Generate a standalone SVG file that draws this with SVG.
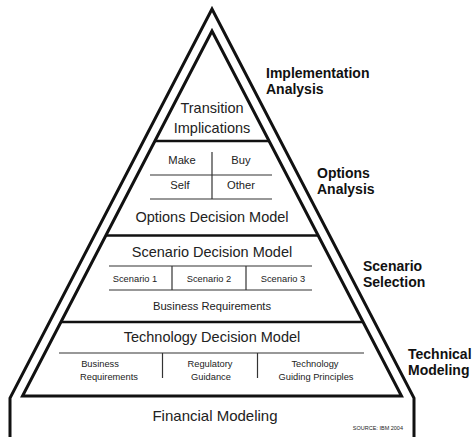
<svg xmlns="http://www.w3.org/2000/svg" width="475" height="437" viewBox="0 0 475 437">
<style>
  .bold { fill: none; stroke: #111; stroke-width: 3; stroke-linejoin: miter; }
  .div { stroke: #111; stroke-width: 2.6; }
  .thin { stroke: #333; stroke-width: 1.2; }
  text { font-family: "Liberation Sans", Arial, sans-serif; fill: #222; text-anchor: middle; }
  .big { font-size: 14.5px; }
  .mid { font-size: 11.2px; }
  .sm { font-size: 9.3px; }
  .side { font-size: 14px; font-weight: bold; fill: #111; text-anchor: start; }
</style>
<rect width="475" height="437" fill="#fff"/>
<g id="frame">
  <path class="bold" d="M10,440 L10,398 L212,9 L414,398 L414,440"/>
  <polygon class="bold" points="212,31 22.5,396 401.5,396"/>
</g>
<g id="connectors">
  <line class="div" x1="155" y1="141" x2="269" y2="141"/>
  <line class="div" x1="106" y1="235.5" x2="318" y2="235.5"/>
  <line class="div" x1="61" y1="322" x2="363" y2="322"/>
</g>
<g id="transition">
  <text class="big" x="212" y="113">Transition</text>
  <text class="big" x="212" y="133">Implications</text>
</g>
<g id="options">
  <line class="thin" x1="150" y1="175" x2="272" y2="175"/>
  <line class="thin" x1="150" y1="199" x2="272" y2="199"/>
  <line class="thin" x1="212" y1="152" x2="212" y2="199"/>
  <text class="mid" x="182" y="164">Make</text>
  <text class="mid" x="241" y="164">Buy</text>
  <text class="mid" x="180" y="189">Self</text>
  <text class="mid" x="241" y="189">Other</text>
  <text class="big" x="212" y="222">Options Decision Model</text>
</g>
<g id="scenario">
  <text class="big" x="212" y="257">Scenario Decision Model</text>
  <line class="thin" x1="109" y1="266" x2="312" y2="266"/>
  <line class="thin" x1="109" y1="290" x2="312" y2="290"/>
  <line class="thin" x1="172" y1="266" x2="172" y2="290"/>
  <line class="thin" x1="246" y1="266" x2="246" y2="290"/>
  <text class="sm" x="135" y="282">Scenario 1</text>
  <text class="sm" x="209" y="282">Scenario 2</text>
  <text class="sm" x="283" y="282">Scenario 3</text>
  <text class="mid" x="212" y="310">Business Requirements</text>
</g>
<g id="technology">
  <text class="big" x="212" y="342">Technology Decision Model</text>
  <line class="thin" x1="59" y1="353" x2="364" y2="353"/>
  <line class="thin" x1="162.5" y1="353" x2="162.5" y2="378"/>
  <line class="thin" x1="257.5" y1="353" x2="257.5" y2="378"/>
  <text class="sm" x="100" y="367">Business</text>
  <text class="sm" x="109" y="380">Requirements</text>
  <text class="sm" x="210" y="367">Regulatory</text>
  <text class="sm" x="211" y="380">Guidance</text>
  <text class="sm" x="315" y="367">Technology</text>
  <text class="sm" x="316" y="380">Guiding Principles</text>
</g>
<g id="financial">
  <text x="215" y="421" style="font-size:15px">Financial Modeling</text>
  <text x="403" y="430" style="font-size:5.5px;text-anchor:end">SOURCE: IBM 2004</text>
</g>
<g id="labels">
  <text class="side" x="266" y="78">Implementation</text>
  <text class="side" x="266" y="94">Analysis</text>
  <text class="side" x="317" y="178">Options</text>
  <text class="side" x="317" y="194">Analysis</text>
  <text class="side" x="363" y="271">Scenario</text>
  <text class="side" x="363" y="287">Selection</text>
  <text class="side" x="408" y="359">Technical</text>
  <text class="side" x="408" y="375">Modeling</text>
</g>
</svg>
